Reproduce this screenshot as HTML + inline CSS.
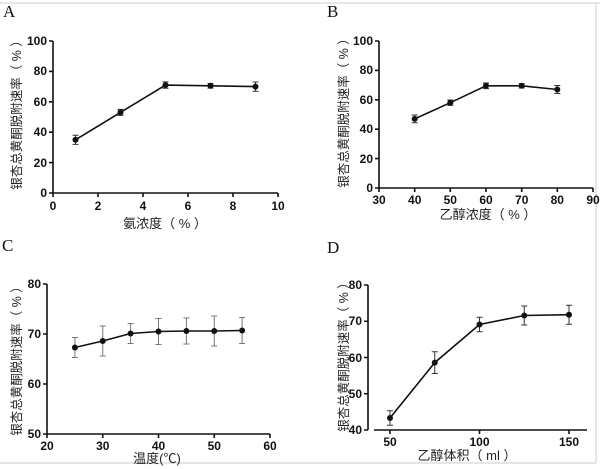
<!DOCTYPE html>
<html><head><meta charset="utf-8"><style>
html,body{margin:0;padding:0;background:#fff}
svg{display:block}
.t{font-family:"Liberation Sans","Noto Sans CJK SC",sans-serif;font-weight:bold;font-size:12px;fill:#111}
.l{font-family:"Liberation Sans","Noto Sans CJK SC",sans-serif;font-size:13px;fill:#222}
.y{font-family:"Liberation Sans","Noto Sans CJK SC",sans-serif;font-size:12.5px;fill:#222}
.p{font-family:"Liberation Serif",serif;font-size:17px;fill:#111}
.ax{stroke:#111;stroke-width:1.6;fill:none}
.ln{stroke:#111;stroke-width:1.6;fill:none}
.e{stroke:#333;stroke-width:1;fill:none}
.eg{stroke:#777;stroke-width:1;fill:none}
</style></head><body>
<svg width="600" height="469" viewBox="0 0 600 469" xmlns="http://www.w3.org/2000/svg">
<line x1="0" y1="3" x2="600" y2="3" stroke="#ccc"/>
<line x1="596" y1="3" x2="596" y2="463" stroke="#ccc"/>
<line x1="0" y1="463" x2="596" y2="463" stroke="#ccc"/>

<!-- A -->
<text class="p" x="3" y="17">A</text>
<path class="ax" d="M53,41 V193 H278"/>
<g class="ax"><path d="M49,41H53M49,71.4H53M49,101.8H53M49,132.2H53M49,162.6H53M49,193H53M53,193V197M98,193V197M143,193V197M188,193V197M233,193V197M278,193V197"/></g>
<g class="t" text-anchor="end"><text x="47" y="45">100</text><text x="47" y="75">80</text><text x="47" y="106">60</text><text x="47" y="136">40</text><text x="47" y="167">20</text><text x="47" y="197">0</text></g>
<g class="t" text-anchor="middle"><text x="53" y="210">0</text><text x="98" y="210">2</text><text x="143" y="210">4</text><text x="188" y="210">6</text><text x="233" y="210">8</text><text x="278" y="210">10</text></g>
<text class="l" x="165" y="228" text-anchor="middle">氨浓度（ % ）</text>
<text class="y" transform="translate(21,112) rotate(-90)" text-anchor="middle">银杏总黄酮脱附速率（ % ）</text>
<path class="e" d="M75.5,135.2V144.4M72.5,135.2H78.5M72.5,144.4H78.5M120.5,109.4V115.4M117.5,109.4H123.5M117.5,115.4H123.5M165.5,81.9V88.3M162.5,81.9H168.5M162.5,88.3H168.5M210.5,83.5V88.1M207.5,83.5H213.5M207.5,88.1H213.5M255.5,82V91.2M252.5,82H258.5M252.5,91.2H258.5"/>
<polyline class="ln" points="75.5,139.8 120.5,112.4 165.5,85.1 210.5,85.8 255.5,86.6"/>
<g fill="#111"><circle cx="75.5" cy="139.8" r="3"/><circle cx="120.5" cy="112.4" r="3"/><circle cx="165.5" cy="85.1" r="3"/><circle cx="210.5" cy="85.8" r="3"/><circle cx="255.5" cy="86.6" r="3"/></g>

<!-- B -->
<text class="p" x="327" y="17">B</text>
<path class="ax" d="M379,41 V188 H593"/>
<path class="ax" d="M375,41H379M375,70.4H379M375,99.8H379M375,129.2H379M375,158.6H379M375,188H379M379,188V192M414.7,188V192M450.3,188V192M486,188V192M521.7,188V192M557.3,188V192M593,188V192"/>
<g class="t" text-anchor="end"><text x="373" y="45">100</text><text x="373" y="74">80</text><text x="373" y="104">60</text><text x="373" y="133">40</text><text x="373" y="163">20</text><text x="373" y="192">0</text></g>
<g class="t" text-anchor="middle"><text x="379" y="204">30</text><text x="414.7" y="204">40</text><text x="450.3" y="204">50</text><text x="486" y="204">60</text><text x="521.7" y="204">70</text><text x="557.3" y="204">80</text><text x="593" y="204">90</text></g>
<text class="l" x="488" y="219" text-anchor="middle">乙醇浓度（ % ）</text>
<text class="y" transform="translate(348,110) rotate(-90)" text-anchor="middle">银杏总黄酮脱附速率（ % ）</text>
<path class="e" d="M414.7,115V122.8M411.7,115H417.7M411.7,122.8H417.7M450.3,100V105.4M447.3,100H453.3M447.3,105.4H453.3M486,83V88.6M483,83H489M483,88.6H489M521.7,83.6V88M518.7,83.6H524.7M518.7,88H524.7M557.3,85.5V93.5M554.3,85.5H560.3M554.3,93.5H560.3"/>
<polyline class="ln" points="414.7,118.9 450.3,102.7 486,85.8 521.7,85.8 557.3,89.5"/>
<g fill="#111"><circle cx="414.7" cy="118.9" r="3"/><circle cx="450.3" cy="102.7" r="3"/><circle cx="486" cy="85.8" r="3"/><circle cx="521.7" cy="85.8" r="3"/><circle cx="557.3" cy="89.5" r="3"/></g>

<!-- C -->
<text class="p" x="2" y="251">C</text>
<path class="ax" d="M47,284 V434 H270"/>
<path class="ax" d="M43,284H47M43,334H47M43,384H47M43,434H47M47,434V438M102.75,434V438M158.5,434V438M214.25,434V438M270,434V438"/>
<g class="t" text-anchor="end"><text x="41" y="288">80</text><text x="41" y="338">70</text><text x="41" y="388">60</text><text x="41" y="438">50</text></g>
<g class="t" text-anchor="middle"><text x="47" y="450">20</text><text x="102.75" y="450">30</text><text x="158.5" y="450">40</text><text x="214.25" y="450">50</text><text x="270" y="450">60</text></g>
<text class="l" x="157" y="463" text-anchor="middle">温度(℃)</text>
<text class="y" transform="translate(21,358) rotate(-90)" text-anchor="middle">银杏总黄酮脱附速率（ % ）</text>
<path class="eg" d="M74.9,337.5V357.5M71.9,337.5H77.9M71.9,357.5H77.9M102.75,326V356M99.75,326H105.75M99.75,356H105.75M130.6,323.5V343.5M127.6,323.5H133.6M127.6,343.5H133.6M158.5,318.5V344.5M155.5,318.5H161.5M155.5,344.5H161.5M186.4,318V344M183.4,318H189.4M183.4,344H189.4M214.25,316V346M211.25,316H217.25M211.25,346H217.25M242.1,317.5V343.5M239.1,317.5H245.1M239.1,343.5H245.1"/>
<polyline class="ln" points="74.9,347.5 102.75,341 130.6,333.5 158.5,331.5 186.4,331 214.25,331 242.1,330.5"/>
<g fill="#111"><circle cx="74.9" cy="347.5" r="3"/><circle cx="102.75" cy="341" r="3"/><circle cx="130.6" cy="333.5" r="3"/><circle cx="158.5" cy="331.5" r="3"/><circle cx="186.4" cy="331" r="3"/><circle cx="214.25" cy="331" r="3"/><circle cx="242.1" cy="330.5" r="3"/></g>

<!-- D -->
<text class="p" x="327" y="253">D</text>
<path class="ax" d="M368,285 V430 M374,430 H587"/>
<path class="ax" d="M364,285H368M364,321.25H368M364,357.5H368M364,393.75H368M364,430H368M390,430V434M479.5,430V434M569,430V434"/>
<g class="t" text-anchor="end"><text x="362" y="289">80</text><text x="362" y="325">70</text><text x="362" y="362">60</text><text x="362" y="398">50</text><text x="362" y="434">40</text></g>
<g class="t" text-anchor="middle"><text x="390" y="446">50</text><text x="479.5" y="446">100</text><text x="569" y="446">150</text></g>
<text class="l" x="467" y="460" text-anchor="middle">乙醇体积（ ml ）</text>
<text class="y" transform="translate(348,354) rotate(-90)" text-anchor="middle">银杏总黄酮脱附速率（ % ）</text>
<path class="e" d="M390,410.7V425.3M387,410.7H393M387,425.3H393M434.75,351.7V373.5M431.75,351.7H437.75M431.75,373.5H437.75M479.5,317.2V331.8M476.5,317.2H482.5M476.5,331.8H482.5M524.25,306V325M521.25,306H527.25M521.25,325H527.25M569,305.2V324.2M566,305.2H572M566,324.2H572"/>
<polyline class="ln" points="390,418 434.75,362.6 479.5,324.5 524.25,315.5 569,314.7"/>
<g fill="#111"><circle cx="390" cy="418" r="3"/><circle cx="434.75" cy="362.6" r="3"/><circle cx="479.5" cy="324.5" r="3"/><circle cx="524.25" cy="315.5" r="3"/><circle cx="569" cy="314.7" r="3"/></g>
</svg>
</body></html>
